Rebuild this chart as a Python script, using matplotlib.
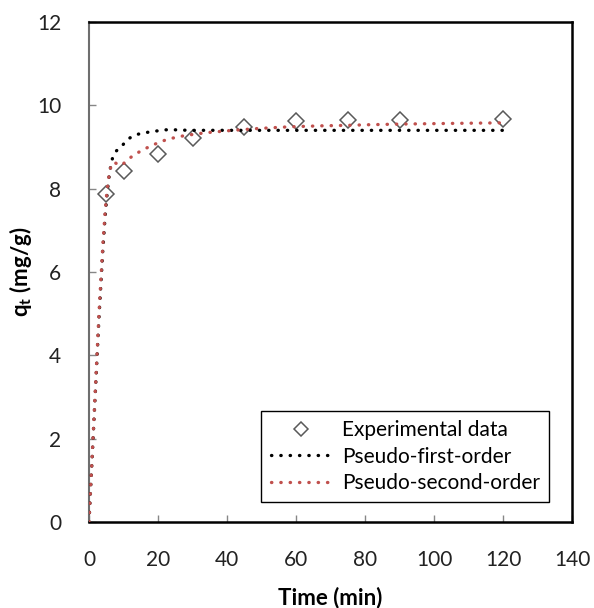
import matplotlib
matplotlib.use("Agg")
import matplotlib.pyplot as plt
from matplotlib.path import Path
from matplotlib.patches import PathPatch
from matplotlib.lines import Line2D

plt.rcParams['font.family'] = ['Lato', 'DejaVu Sans']
plt.rcParams['mathtext.fontset'] = 'custom'
plt.rcParams['mathtext.rm'] = 'Lato'
plt.rcParams['mathtext.bf'] = 'Lato:bold'
plt.rcParams['mathtext.it'] = 'Lato:italic'

# Contact time (min) and measured uptake (mg/g)
time_exp = [5, 10, 20, 30, 45, 60, 75, 90, 120]
q_exp = [7.87, 8.42, 8.83, 9.22, 9.47, 9.62, 9.65, 9.65, 9.68]

# Model predictions at the sampling times
time_model = [0, 5, 10, 20, 30, 45, 60, 75, 90, 120]
q_pfo = [0, 7.65, 9.07, 9.39, 9.40, 9.40, 9.40, 9.40, 9.40, 9.40]
q_pso = [0, 7.76, 8.60, 9.10, 9.30, 9.42, 9.49, 9.52, 9.55, 9.58]

x_ticks = [0, 20, 40, 60, 80, 100, 120, 140]
y_ticks = [0, 2, 4, 6, 8, 10, 12]

RED = '#C0504D'
DOT_LW = 2.4
DOT_STYLE = (0, (0.1, 2.7))
FS = 15
LABEL_FS = 16


def smooth_path(xs, ys):
    """Cubic Bezier path through the points (Catmull-Rom style tangents)."""
    pts = list(zip(xs, ys))
    n = len(pts)
    verts = [pts[0]]
    codes = [Path.MOVETO]
    for i in range(n - 1):
        p_prev = pts[i - 1] if i > 0 else pts[i]
        p0 = pts[i]
        p1 = pts[i + 1]
        p_next = pts[i + 2] if i + 2 < n else pts[i + 1]
        c1 = (p0[0] + (p1[0] - p_prev[0]) / 6.0, p0[1] + (p1[1] - p_prev[1]) / 6.0)
        c2 = (p1[0] - (p_next[0] - p0[0]) / 6.0, p1[1] - (p_next[1] - p0[1]) / 6.0)
        verts += [c1, c2, p1]
        codes += [Path.CURVE4] * 3
    return Path(verts, codes)


fig = plt.figure(figsize=(5.94, 6.08), dpi=100)
ax = fig.add_axes([89 / 594, 1 - 522 / 608, 483 / 594, 500 / 608])

ax.plot(time_exp, q_exp, linestyle='none', marker='D', markersize=8,
        markerfacecolor='none', markeredgecolor='#595959', markeredgewidth=1.1,
        zorder=2)

for q, col in ((q_pfo, 'black'), (q_pso, RED)):
    patch = PathPatch(smooth_path(time_model, q), fill=False, edgecolor=col,
                      linewidth=DOT_LW, linestyle=DOT_STYLE, zorder=3)
    patch.set_capstyle('round')
    ax.add_patch(patch)

ax.set_xlim(0, 140)
ax.set_ylim(0, 12)
ax.set_xticks(x_ticks)
ax.set_yticks(y_ticks)
ax.tick_params(direction='in', length=5, width=1, color='#868686',
               labelsize=FS, labelcolor='#222222')
ax.tick_params(axis='x', pad=20)
ax.tick_params(axis='y', pad=20)
for s in ax.spines.values():
    s.set_linewidth(1.8)
    s.set_color('black')
ax.spines['left'].set_color('#6e6e6e')
ax.spines['left'].set_linewidth(1.5)

ax.set_xlabel('Time (min)', fontsize=LABEL_FS, fontweight='bold', labelpad=12)
ax.set_ylabel(r'$\mathbf{q_t}$' + ' (mg/g)', fontsize=LABEL_FS, fontweight='bold')
ax.yaxis.set_label_coords(-0.114, 0.5)

handles = [
    Line2D([], [], linestyle='none', marker='D', markersize=7.6,
           markerfacecolor='none', markeredgecolor='#595959', markeredgewidth=1.1),
    Line2D([], [], color='black', linewidth=DOT_LW, linestyle=DOT_STYLE,
           dash_capstyle='round'),
    Line2D([], [], color=RED, linewidth=DOT_LW, linestyle=DOT_STYLE,
           dash_capstyle='round'),
]
labels = ['Experimental data', 'Pseudo-first-order', 'Pseudo-second-order']
leg = ax.legend(handles, labels, loc='upper left', bbox_to_anchor=(0.357, 0.222),
                borderaxespad=0, fontsize=FS, handlelength=2.9, numpoints=1,
                labelspacing=0.3, handletextpad=0.5, borderpad=0.45,
                fancybox=False, framealpha=1, edgecolor='black')
leg.get_frame().set_linewidth(1.0)

fig.savefig('out.png', dpi=100)
